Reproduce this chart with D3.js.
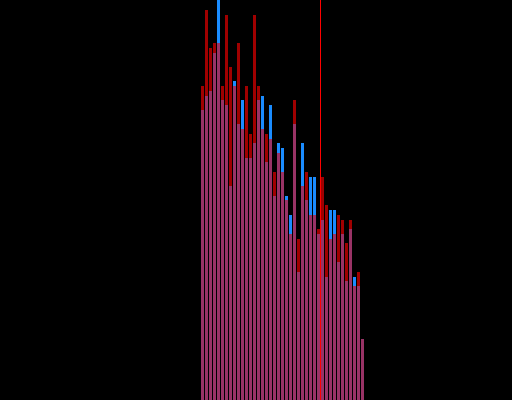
<!DOCTYPE html>
<html>
<head>
<meta charset="utf-8">
<script src="https://cdn.jsdelivr.net/npm/d3@7"></script>
<style>
  html, body { margin: 0; padding: 0; background: #000; }
  svg { display: block; }
</style>
</head>
<body>
<div id="chart"></div>
<script>
var w = 512;
var h = 400;

// bins 50..90
var firstBin = 50;
var seriesA = [314, 390, 352, 357, 357, 314, 385, 333, 314, 357,
               271, 314, 266, 385, 314, 271, 266, 261, 228, 247,
               228, 200, 166, 300, 161, 214, 228, 185, 185, 171,
               223, 195, 161, 166, 185, 180, 157, 180, 114, 128,
               61];
var seriesB = [290, 304, 309, 347, 400, 300, 295, 214, 319, 276,
               300, 242, 242, 257, 300, 304, 238, 295, 204, 257,
               252, 204, 185, 276, 128, 257, 200, 223, 223, 166,
               180, 123, 190, 190, 138, 166, 119, 171, 123, 114,
               61];
var markerBin = 80;

var data = seriesA.map(function (a, i) {
    return { bin: firstBin + i, a: a, b: seriesB[i] };
});

var x = d3.scaleLinear().domain([0, 128]).range([0, w]);
var y = d3.scaleLinear().domain([0, 400]).range([h, 0]);

var svg = d3.select("#chart")
    .append("svg")
    .attr("width", w)
    .attr("height", h);

svg.append("rect")
    .attr("width", w)
    .attr("height", h)
    .attr("fill", "#000");

function bars(cls, color, value) {
    svg.selectAll("rect." + cls)
        .data(data)
        .enter()
        .append("rect")
        .attr("class", cls)
        .attr("x", function (d) { return x(d.bin) + 1; })
        .attr("y", function (d) { return y(value(d)); })
        .attr("width", x(1) - 1)
        .attr("height", function (d) { return h - y(value(d)); })
        .attr("fill", color);
}

bars("a", "#a00000", function (d) { return d.a; });
bars("b", "#1a8cff", function (d) { return d.b; });
bars("both", "#993366", function (d) { return Math.min(d.a, d.b); });

svg.append("line")
    .attr("x1", x(markerBin) + 0.5)
    .attr("x2", x(markerBin) + 0.5)
    .attr("y1", 0)
    .attr("y2", h)
    .attr("stroke", "#ff0000")
    .attr("stroke-width", 1);
</script>
</body>
</html>
